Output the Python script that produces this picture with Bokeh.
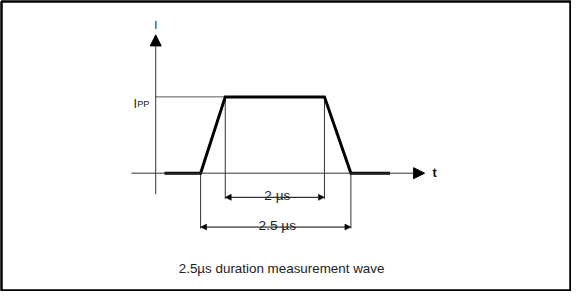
from bokeh.plotting import figure
from bokeh.models import Arrow, NormalHead, Range1d, Label
from bokeh.embed import file_html
from bokeh.resources import INLINE

# ---- data (time in µs, current relative to Ipp) ----
wave_t = [-0.6, 0.0, 0.41, 2.06, 2.5, 3.15]
wave_i = [0, 0, 1, 1, 0, 0]
rise_start, plateau_start, plateau_end, fall_end = 0.0, 0.41, 2.06, 2.5
dim_labels = ["2 µs", "2.5 µs"]
axis_labels = ["I", "t"]
ipp_main, ipp_sub = "I", "PP"
caption = "2.5µs duration measurement wave"

# ---- layout: schematic scale, expressed in reference-drawing pixels ----
W, H = 571, 291
MB = 1
REF_L, REF_R, REF_T, REF_B = 3.0, 586.0, 3.0, 306.0   # drawing frame
SX = (W - 2 * MB) / (REF_R - REF_L)
PX_US, PX_I = 61.6, 80.0
OX, OY = 207.0, 183.0   # origin in drawing pixels

def tx(px):
    return (px - OX) / PX_US

def iy(py):
    return (OY - py) / PX_I

def fs(px):
    return f"{px * SX:.1f}px"

p = figure(width=W, height=H, output_backend="svg", toolbar_location=None,
           min_border=MB, min_border_left=MB, min_border_right=MB,
           min_border_top=MB, min_border_bottom=MB,
           x_range=Range1d(tx(REF_L), tx(REF_R)), y_range=Range1d(iy(REF_B), iy(REF_T)))
p.axis.visible = False
p.grid.visible = False
p.outline_line_color = "black"
p.outline_line_width = 2.5
p.background_fill_color = "white"
p.border_fill_color = "white"

FONT = "Liberation Sans"
thin = "#333333"

y_axis_x = tx(161)
# Ipp reference line
p.line([y_axis_x, plateau_start], [1, 1], line_color="#555555", line_width=1)
# extension lines
for t in (plateau_start, plateau_end):
    p.line([t, t], [1, iy(210)], line_color=thin, line_width=1)
for t in (rise_start, fall_end):
    p.line([t, t], [0, iy(241)], line_color=thin, line_width=1)

# axes with arrowheads
p.add_layout(Arrow(end=NormalHead(size=11, fill_color="black", line_color="black", line_width=1),
                   x_start=tx(136), y_start=0, x_end=tx(436.5), y_end=0,
                   line_color=thin, line_width=1))
p.add_layout(Arrow(end=NormalHead(size=11, fill_color="black", line_color="black", line_width=1),
                   x_start=y_axis_x, y_start=iy(205), x_end=y_axis_x, y_end=iy(38),
                   line_color=thin, line_width=1))

# waveform
p.line(wave_t, wave_i, line_color="black", line_width=3, line_join="miter")

# dimension arrows
dims = [(plateau_start, plateau_end, iy(208.3), iy(206.5), dim_labels[0]),
        (rise_start, fall_end, iy(239.5), iy(238.0), dim_labels[1])]
for a, b, yy, ylab, lab in dims:
    p.add_layout(Arrow(start=NormalHead(size=6, fill_color="black", line_color="black", line_width=0.5),
                       end=NormalHead(size=6, fill_color="black", line_color="black", line_width=0.5),
                       x_start=a, y_start=yy, x_end=b, y_end=yy,
                       line_color="black", line_width=1))
    p.add_layout(Label(x=tx(285.6), y=ylab, text=lab, text_align="center",
                       text_baseline="alphabetic", text_font=FONT, text_font_size=fs(14),
                       text_color="#222222"))

# axis labels
p.add_layout(Label(x=y_axis_x, y=iy(27.5), text=axis_labels[0], text_align="center",
                   text_baseline="middle", text_font=FONT, text_font_size=fs(11.5),
                   text_color="#222222"))
p.add_layout(Label(x=tx(444.5), y=0, text=axis_labels[1], text_align="left",
                   text_baseline="middle", text_font=FONT, text_font_size=fs(13),
                   text_font_style="bold", text_color="#111111"))

# Ipp label
p.add_layout(Label(x=tx(138.3), y=iy(110.5), text=ipp_main, text_align="left",
                   text_baseline="alphabetic", text_font=FONT, text_font_size=fs(13),
                   text_color="#222222"))
p.add_layout(Label(x=tx(142.0), y=iy(110.5), text=ipp_sub, text_align="left",
                   text_baseline="alphabetic", text_font=FONT, text_font_size=fs(9.5),
                   text_color="#222222"))

# caption
p.add_layout(Label(x=tx(290), y=iy(282.5), text=caption, text_align="center",
                   text_baseline="alphabetic", text_font=FONT, text_font_size=fs(13.7),
                   text_color="#222222"))

open("out.html", "w").write(file_html(p, INLINE))
